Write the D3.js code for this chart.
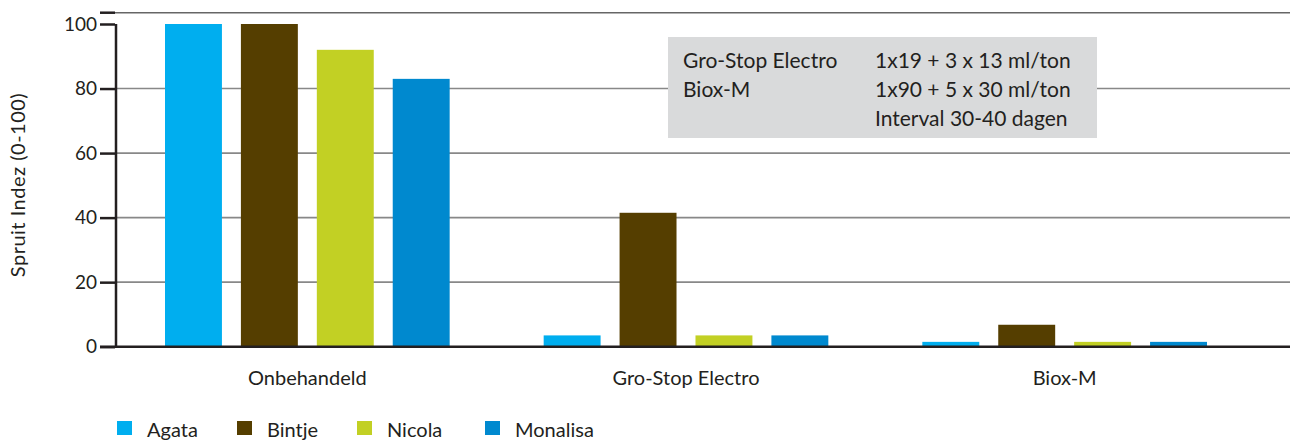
<!DOCTYPE html>
<html>
<head>
<meta charset="utf-8">
<script src="https://cdn.jsdelivr.net/npm/d3@7"></script>
<style>
  body { margin: 0; background: #fff; }
  svg text { font-family: Lato, "Open Sans", sans-serif; fill: #231f20; }
</style>
</head>
<body>
<div id="chart"></div>
<script>
// data
var categories = ["Onbehandeld", "Gro-Stop Electro", "Biox-M"];
var varieties = ["Agata", "Bintje", "Nicola", "Monalisa"];
var agata = [100, 3.5, 1.5];
var bintje = [100, 41.5, 6.8];
var nicola = [92, 3.5, 1.5];
var monalisa = [83, 3.5, 1.5];
var yTicks = [0, 20, 40, 60, 80, 100];
var infoLines = [
  ["Gro-Stop Electro", "1x19 + 3 x 13 ml/ton"],
  ["Biox-M", "1x90 + 5 x 30 ml/ton"],
  ["", "Interval 30-40 dagen"]
];

var seriesValues = [agata, bintje, nicola, monalisa];
var colors = ["#00aeef", "#553e00", "#c2d024", "#0089cf"];

var width = 1290, height = 441;

var svg = d3.select("#chart").append("svg")
  .attr("width", width)
  .attr("height", height);

var y = d3.scaleLinear().domain([0, 100]).range([346.7, 24]);

var x0 = d3.scaleBand().domain(categories).range([118, 1254]).padding(0);
var x1 = d3.scaleBand().domain(varieties)
  .range([47, x0.bandwidth() - 47])
  .paddingInner(0.25).paddingOuter(0);

var color = d3.scaleOrdinal().domain(varieties).range(colors);

// grid lines
svg.selectAll(".grid")
  .data([20, 40, 60, 80, 103.5])
  .enter().append("line")
  .attr("x1", 115).attr("x2", width)
  .attr("y1", function(d) { return y(d); })
  .attr("y2", function(d) { return y(d); })
  .attr("stroke", function(d) { return d > 100 ? "#666" : "#888"; })
  .attr("stroke-width", 1.6);

// tick at top line
svg.append("line")
  .attr("x1", 100).attr("x2", 115)
  .attr("y1", y(103.5)).attr("y2", y(103.5))
  .attr("stroke", "#231f20").attr("stroke-width", 2.5);

// info box
var box = svg.append("g");
box.append("rect")
  .attr("x", 668).attr("y", 37)
  .attr("width", 429).attr("height", 101)
  .attr("fill", "#d9dadb");
infoLines.forEach(function(l, i) {
  box.append("text").attr("x", 683).attr("y", 68 + i * 29)
    .style("font-size", "21px").text(l[0]);
  box.append("text").attr("x", 875).attr("y", 68 + i * 29)
    .style("font-size", "21px").text(l[1]);
});

// bars
var groups = svg.selectAll(".group")
  .data(categories)
  .enter().append("g")
  .attr("transform", function(d) { return "translate(" + x0(d) + ",0)"; });

groups.selectAll("rect")
  .data(function(d, i) {
    return varieties.map(function(v, j) { return { key: v, value: seriesValues[j][i] }; });
  })
  .enter().append("rect")
  .attr("x", function(d) { return x1(d.key); })
  .attr("width", x1.bandwidth())
  .attr("y", function(d) { return y(d.value); })
  .attr("height", function(d) { return y(0) - y(d.value); })
  .attr("fill", function(d) { return color(d.key); });

// y axis
var yAxis = d3.axisLeft(y).tickValues(yTicks).tickSize(15).tickPadding(3);
var ya = svg.append("g")
  .attr("transform", "translate(115,0)")
  .call(yAxis);
ya.select(".domain").remove();
ya.selectAll(".tick line").attr("stroke", "#231f20").attr("stroke-width", 2.5);
ya.selectAll(".tick text").style("font-size", "19px").attr("fill", "#231f20");

svg.append("line")
  .attr("x1", 116).attr("x2", 116)
  .attr("y1", y(100)).attr("y2", y(0))
  .attr("stroke", "#231f20").attr("stroke-width", 2.5);

// baseline
svg.append("line")
  .attr("x1", 100).attr("x2", width)
  .attr("y1", y(0)).attr("y2", y(0))
  .attr("stroke", "#231f20").attr("stroke-width", 2.5);

// x labels
svg.selectAll(".xlabel")
  .data(categories)
  .enter().append("text")
  .attr("x", function(d) { return x0(d) + x0.bandwidth() / 2; })
  .attr("y", 385)
  .attr("text-anchor", "middle")
  .style("font-size", "20px")
  .text(function(d) { return d; });

// y label
svg.append("text")
  .attr("transform", "translate(25,185) rotate(-90)")
  .attr("text-anchor", "middle")
  .style("font-size", "20px")
  .style("letter-spacing", "0.5px")
  .text("Spruit Indez (0-100)");

// legend
var legendX = [117, 237, 357, 485];
var lg = svg.selectAll(".legend")
  .data(varieties)
  .enter().append("g")
  .attr("transform", function(d, i) { return "translate(" + legendX[i] + ",421)"; });
lg.append("rect").attr("width", 15).attr("height", 14)
  .attr("fill", function(d) { return color(d); });
lg.append("text").attr("x", 30).attr("y", 16)
  .style("font-size", "20px")
  .text(function(d) { return d; });
</script>
</body>
</html>
